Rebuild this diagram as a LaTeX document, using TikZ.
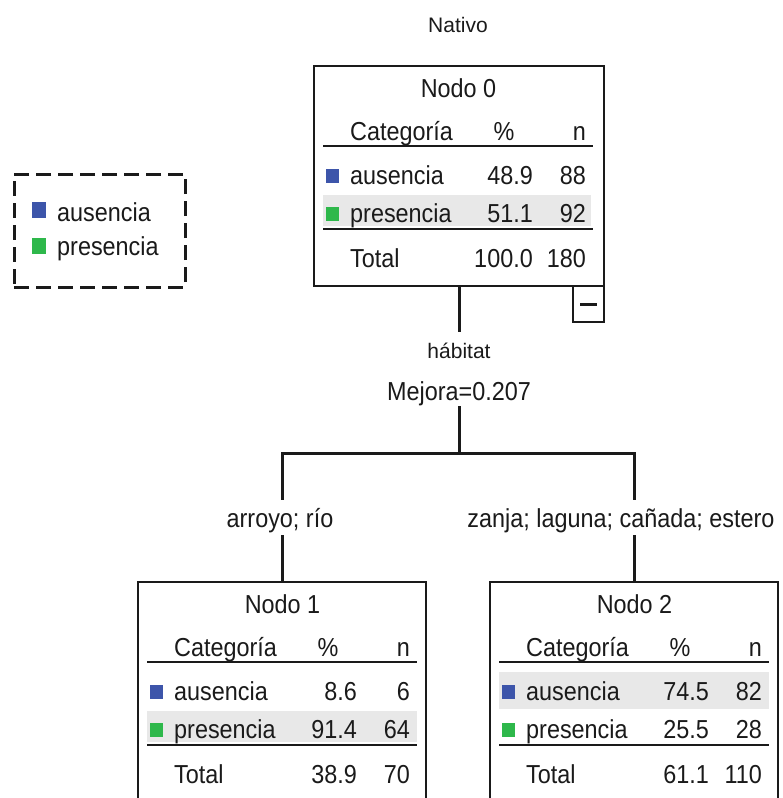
\documentclass[tikz,border=0pt]{standalone}
\usepackage{fontspec}
\setmainfont{Liberation Sans}
\newfontfamily\spssfont[FakeStretch=0.9]{Liberation Sans}
\usetikzlibrary{calc}
\definecolor{ausC}{HTML}{3D55AA}
\definecolor{presC}{HTML}{2EB84B}
\definecolor{hlC}{HTML}{E8E8E8}
\definecolor{inkC}{HTML}{1A1A1A}
\tikzset{
  txt/.style={inner sep=0pt, text=inkC, font=\spssfont\fontsize{26}{30}\selectfont},
  lbl/.style={inner sep=0pt, text=inkC, font=\fontsize{21}{25}\selectfont},
  tbox/.style={draw=inkC, line width=2.5pt, anchor=north west, inner sep=0pt, outer sep=0pt, minimum width=288pt, minimum height=240pt},
  rulez/.style={draw=inkC, line width=2pt},
  conn/.style={draw=inkC, line width=3pt, line join=miter},
  sqA/.style={fill=ausC},
  sqP/.style={fill=presC},
}
% #1 prefix, #2 title, #3 aus pct, #4 aus n, #5 pres pct, #6 pres n, #7 total pct, #8 total n
\newcommand{\CatTable}[8]{%
  \node[txt, anchor=base] (#1-title) at (144.5,31) {#2};
  \node[txt, anchor=base west] (#1-hcat) at (36,74) {Categoría};
  \node[txt, anchor=base] (#1-hpct) at (190,74) {\%};
  \node[txt, anchor=base east] (#1-hn) at (272,74) {n};
  \draw[rulez] (9,80) -- (279,80);
  \fill[sqA] (12,103) rectangle (25,117);
  \node[txt, anchor=base west] (#1-acat) at (36,118) {ausencia};
  \node[txt, anchor=base east] (#1-apct) at (219,118) {#3};
  \node[txt, anchor=base east] (#1-an) at (272,118) {#4};
  \fill[sqP] (12,141) rectangle (25,155);
  \node[txt, anchor=base west] (#1-pcat) at (36,156) {presencia};
  \node[txt, anchor=base east] (#1-ppct) at (219,156) {#5};
  \node[txt, anchor=base east] (#1-pn) at (272,156) {#6};
  \draw[rulez] (9,163) -- (279,163);
  \node[txt, anchor=base west] (#1-tcat) at (36,201) {Total};
  \node[txt, anchor=base east] (#1-tpct) at (219,201) {#7};
  \node[txt, anchor=base east] (#1-tn) at (272,201) {#8};
}
\begin{document}
\begin{tikzpicture}[x=1pt,y=-1pt]
\clip (0,0) rectangle (782,798);
\fill[white] (0,0) rectangle (782,798);
% title
\node[lbl, anchor=base] (title) at (458,32) {Nativo};
% legend
\node[draw=inkC, line width=3pt, dash pattern=on 15pt off 7pt, anchor=north west, minimum width=171pt, minimum height=113pt, inner sep=0pt, outer sep=0pt] (legend) at (14,174) {};
\fill[sqA] (32,202) rectangle (46,218);
\node[txt, anchor=base west] (lgA) at (57,221) {ausencia};
\fill[sqP] (32,238) rectangle (46,254);
\node[txt, anchor=base west] (lgP) at (57,255) {presencia};
% node 0
\node[tbox, minimum width=290pt, minimum height=220pt] (n0) at (314,66) {};
\begin{scope}[shift={(314,66)}]
  \fill[hlC] (9,129) rectangle (277,160);
  \CatTable{n0}{Nodo 0}{48.9}{88}{51.1}{92}{100.0}{180}
\end{scope}
\node[draw=inkC, line width=2.5pt, anchor=north east, minimum width=31pt, minimum height=36pt, inner sep=0pt, outer sep=0pt] (c0) at (n0.south east) {};
\draw[inkC, line width=3pt] ($(c0.center)+(-8.5,0)$) -- ($(c0.center)+(8.5,0)$);
% split labels
\node[lbl, anchor=base, text height=26pt, text depth=0pt] (hab) at (459,358) {hábitat};
\draw[conn] (n0.south) -- (hab.north);
\node[txt, anchor=base, text height=17pt, text depth=6pt] (mej) at (459,400) {Mejora=0.207};
\coordinate (j) at (459,453);
\draw[conn] (mej.south) -- (j);
% child nodes
\node[tbox] (n1) at (138,582) {};
\node[tbox] (n2) at (490,582) {};
\begin{scope}[shift={(138,582)}]
  \fill[hlC] (9,129) rectangle (279,160);
  \CatTable{n1}{Nodo 1}{8.6}{6}{91.4}{64}{38.9}{70}
\end{scope}
\begin{scope}[shift={(490,582)}]
  \fill[hlC] (9,90) rectangle (279,127);
  \CatTable{n2}{Nodo 2}{74.5}{82}{25.5}{28}{61.1}{110}
\end{scope}
\node[txt, anchor=base, text height=27pt, text depth=8pt] (l1) at (280,527) {arroyo; río};
\node[txt, anchor=base, text height=27pt, text depth=8pt] (l2) at (621,527) {zanja; laguna; cañada; estero};
\coordinate (jl) at (n1.north |- j);
\coordinate (jr) at (n2.north |- j);
\draw[conn] (jl |- l1.north) -- (jl) -- (jr) -- (jr |- l2.north);
\draw[conn] (jl |- l1.south) -- (n1.north);
\draw[conn] (jr |- l2.south) -- (n2.north);
\end{tikzpicture}
\end{document}
